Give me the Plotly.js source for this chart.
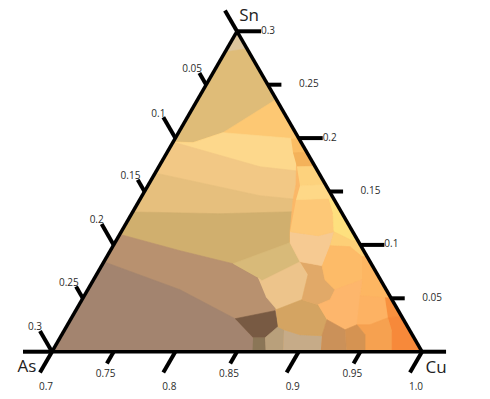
<!DOCTYPE html>
<html><head><meta charset="utf-8">
<script src="https://cdn.plot.ly/plotly-3.0.1.min.js"></script>
<style>html,body{margin:0;padding:0;background:#fff}#chart{width:490px;height:399px}</style>
</head><body><div id="chart"></div>
<script>
// ---- axis ticks and labels (composition fractions) ----
const snTicks = [0, 0.05, 0.1, 0.15, 0.2, 0.25, 0.3];
const asTicks = [0, 0.05, 0.1, 0.15, 0.2, 0.25, 0.3];
const cuTicks = [0.7, 0.75, 0.8, 0.85, 0.9, 0.95, 1.0];
const snLabelVals = [0.05, 0.1, 0.15, 0.2, 0.25, 0.3];
const snLabelText = ['0.05', '0.1', '0.15', '0.2', '0.25', '0.3'];
const asLabelVals = [0.05, 0.1, 0.15, 0.2, 0.25, 0.3];
const asLabelText = ['0.05', '0.1', '0.15', '0.2', '0.25', '0.3'];
const cuLabelVals = [0.7, 0.75, 0.8, 0.85, 0.9, 0.95, 1.0];
const cuLabelText = ['0.7', '0.75', '0.8', '0.85', '0.9', '0.95', '1.0'];
const cornerNames = ['Sn', 'Cu', 'As'];

// ---- Voronoi-like cells: vertices as (Sn, As) fractions, Cu = 1 - Sn - As ----
const cellColor = [
  '#dcc59d', '#dfbc78', '#fdc873', '#fdd88c', '#f2c885', '#e6bf7d', '#d0af6e', '#b8916f', '#a3846f',
  '#fbb868', '#d8ba79', '#edc48b', '#785a43', '#8b7657', '#b9a07b', '#c6ab88', '#d4a462', '#e1a968',
  '#f6ca92', '#fdc877', '#fee07e', '#fdcf77', '#fdbb68', '#fdb662', '#fdb66c', '#fdb263', '#f8913f',
  '#f6a150', '#f7893a', '#d59352', '#cb9159', '#fbbd63', '#f4b25a', '#fdd27d', '#fed887'
];
const cellSn = [
  [0.32, -0.01, -0.01],
  [0.2772, 0.2884, -0.05, -0.05],
  [0.1976, 0.1957, 0.2051, 0.2350, 0.2406, -0.05, -0.05],
  [0.1966, 0.1957, 0.2051, 0.1994, 0.1994, -0.05, -0.05],
  [0.1985, 0.1732, 0.1648, -0.05, -0.05],
  [0.1704, 0.1461, 0.1367, -0.05, -0.05],
  [0.1311, 0.1292, 0.1311, 0.1311, -0.05, -0.05],
  [0.1124, 0.0946, 0.0824, 0.0693, 0.0393, -0.0449, -0.05],
  [0.0890, 0.0581, 0.0309, 0.0131, -0.0449, -0.05],
  [0.2013, 0.22, -0.05, -0.0449, 0.0206, 0.0393, 0.0843, 0.1021, 0.1124, 0.1423, 0.1564, 0.1873],
  [0.0824, 0.1021, 0.0843, 0.0665, 0.0693],
  [0.0693, 0.0665, 0.0843, 0.0721, 0.0487, 0.0393, 0.0515],
  [0.0309, 0.0384, 0.0234, 0.0131, 0.0131],
  [0.0131, 0.0131, -0.0075, -0.0075],
  [0.0131, 0.0234, 0.0206, -0.0075, -0.0075],
  [0.0206, 0.0159, 0.0150, -0.0075, -0.0075],
  [0.0393, 0.0487, 0.0440, 0.0300, 0.0150, 0.0159, 0.0206, 0.0234],
  [0.0843, 0.0805, 0.0674, 0.0581, 0.0487, 0.0440, 0.0487, 0.0721],
  [0.1124, 0.1086, 0.1124, 0.0993, 0.0805, 0.0843, 0.1021],
  [0.1423, 0.1451, 0.1292, 0.1124, 0.1086, 0.1124],
  [0.1451, 0.1470, 0.1049, 0.1039, 0.1124, 0.1292],
  [0.1124, 0.1039, 0.1049, 0.0908, 0.0890, 0.0983, 0.0993],
  [0.0993, 0.0983, 0.0890, 0.0674, 0.0581, 0.0674, 0.0805],
  [0.0890, 0.0908, 0.0487, 0.0506, 0.0524, 0.0674],
  [0.0440, 0.0487, 0.0581, 0.0674, 0.0524, 0.0253, 0.0206, 0.0300],
  [0.0524, 0.0506, 0.0318, 0.0253, 0.0253],
  [0.0506, 0.0487, 0.0346, 0.0318],
  [0.0253, 0.0253, 0.0318, 0.0187, -0.0075, -0.0075, 0.0159],
  [0.0318, 0.0346, -0.0075, -0.0075, 0.0187],
  [0.0206, 0.0253, 0.0159, -0.0075, -0.0075],
  [0.0150, 0.0300, 0.0206, -0.0075, -0.0075],
  [0.1994, 0.2013, 0.1873, 0.1863],
  [0.1863, 0.1873, 0.1742, 0.1732],
  [0.1732, 0.1742, 0.1573, 0.1554],
  [0.1554, 0.1573, 0.1442, 0.1423]
];
const cellAs = [
  [-0.01, 0.32, -0.01],
  [0.0414, -0.0291, -0.03, 0.40],
  [0.1217, 0.0878, 0.0588, 0.0025, -0.0457, -0.03, 0.40],
  [0.1222, 0.0878, 0.0588, 0.0025, -0.0332, -0.03, 0.40],
  [0.1091, 0.0448, -0.0159, -0.03, 0.40],
  [0.1435, 0.0584, -0.0181, -0.03, 0.40],
  [0.1794, 0.0992, 0.0375, -0.0152, -0.03, 0.40],
  [0.1968, 0.1489, 0.1120, 0.0983, 0.0987, 0.1376, 0.40],
  [0.2247, 0.1672, 0.1361, 0.1304, 0.1571, 0.40],
  [0.0016, -0.05, -0.03, 0.1352, 0.1024, 0.0987, 0.0568, 0.0560, 0.0508, 0.0334, 0.0240, 0.0078],
  [0.1120, 0.0560, 0.0568, 0.0965, 0.0983],
  [0.0983, 0.0965, 0.0568, 0.0564, 0.0730, 0.0979, 0.1008],
  [0.1361, 0.1000, 0.1051, 0.1207, 0.1304],
  [0.1304, 0.1207, 0.1302, 0.1415],
  [0.1207, 0.1051, 0.1016, 0.1164, 0.1302],
  [0.1016, 0.0909, 0.0736, 0.0864, 0.1164],
  [0.0987, 0.0730, 0.0623, 0.0620, 0.0736, 0.0909, 0.1016, 0.1051],
  [0.0568, 0.0408, 0.0450, 0.0415, 0.0503, 0.0623, 0.0730, 0.0564],
  [0.0508, 0.0300, 0.0152, 0.0250, 0.0408, 0.0568, 0.0560],
  [0.0310, 0.0036, 0.0076, 0.0152, 0.0300, 0.0508],
  [0.0036, -0.0232, -0.0183, 0.0048, 0.0152, 0.0076],
  [0.0152, 0.0048, -0.0143, -0.0073, 0.0041, 0.0092, 0.0250],
  [0.0250, 0.0092, 0.0041, 0.0149, 0.0415, 0.0450, 0.0408],
  [0.0041, -0.0113, -0.0186, 0.0047, 0.0241, 0.0149],
  [0.0623, 0.0503, 0.0415, 0.0149, 0.0241, 0.0401, 0.0521, 0.0620],
  [0.0241, 0.0047, 0.0117, 0.0296, 0.0401],
  [0.0047, -0.0186, -0.0157, 0.0117],
  [0.0401, 0.0296, 0.0117, 0.0149, 0.0280, 0.0499, 0.0382],
  [0.0117, -0.0157, -0.0109, 0.0280, 0.0149],
  [0.0521, 0.0401, 0.0382, 0.0499, 0.0645],
  [0.0736, 0.0620, 0.0521, 0.0645, 0.0864],
  [0.0065, -0.0260, -0.0190, 0.0114],
  [0.0114, -0.0190, -0.0166, 0.0148],
  [0.0148, -0.0166, -0.0163, 0.0212],
  [0.0212, -0.0163, -0.0137, 0.0310]
];

// ---- geometry: ternary triangle placement and a matching cartesian overlay ----
const W = 490, H = 399;
const TRI_L = 52, TRI_R = 422, TRI_T = 31, TRI_B = 352;   // triangle box in px
const PX = (TRI_R - TRI_L) / 0.3;                           // px per composition unit
const triBottom = (TRI_T + TRI_B) / 2 + (TRI_R - TRI_L) * Math.sqrt(3) / 4;
const LONG = 0.0195, SHORT = 0.011;                         // tick lengths (composition units)
const FONT = '"Open Sans", "DejaVu Sans", sans-serif';
// ternary (Sn, As) -> overlay cartesian coordinates (same units as composition)
function proj(sn, as) { return [0.3 - sn / 2 - as, sn * Math.sqrt(3) / 2]; }
function off(p, dx, dy) { return [p[0] + dx / PX, p[1] - dy / PX]; }
const isMajor = v => Math.abs(Math.round(v * 100) % 10) === 0;

const traces = [];
cellColor.forEach((col, i) => {
  const sn = cellSn[i], as = cellAs[i];
  traces.push({
    type: 'scatterternary', mode: 'lines', fill: 'toself', fillcolor: col,
    a: sn, b: as, c: sn.map((s, k) => 1 - s - as[k]),
    line: {color: col, width: 0.6}, hoverinfo: 'skip', showlegend: false
  });
});

// ---- tick marks, drawn along the grid directions ----
const tx = [], ty = [];
function seg(p, q) { tx.push(p[0], q[0], null); ty.push(p[1], q[1], null); }
snTicks.forEach(v => { const L = isMajor(v) ? LONG : SHORT; seg(proj(v, 0), proj(v, -L)); });
cuTicks.forEach(v => { const L = isMajor(v) ? LONG : SHORT; seg(proj(0, 1 - v), proj(-L, 1 - v + L)); });
asTicks.forEach(v => { const L = isMajor(v) ? LONG : SHORT; seg(proj(0.3 - v, v), proj(0.3 - v + L, v)); });
seg(proj(0, 0.3), proj(0, 0.3 + 0.0235));   // bottom edge extension at the As corner
traces.push({
  type: 'scatter', mode: 'lines', x: tx, y: ty, line: {color: '#000', width: 4},
  hoverinfo: 'skip', showlegend: false, cliponaxis: false
});

// ---- tick labels ----
const lx = [], ly = [], lt = [];
function lab(p, t) { lx.push(p[0]); ly.push(p[1]); lt.push(t); }
snLabelVals.forEach((v, i) => lab(off(proj(v, 0), isMajor(v) ? 31 : 41, 0), snLabelText[i]));
cuLabelVals.forEach((v, i) => lab(isMajor(v) ? off(proj(0, 1 - v), -6, 36) : off(proj(0, 1 - v), -8, 23), cuLabelText[i]));
asLabelVals.forEach((v, i) => lab(isMajor(v) ? off(proj(0.3 - v, v), -17, -24) : off(proj(0.3 - v, v), -14, -15), asLabelText[i]));
traces.push({
  type: 'scatter', mode: 'text', x: lx, y: ly, text: lt, cliponaxis: false,
  textposition: 'middle center', textfont: {family: FONT, size: 10, color: '#2b2b2b'},
  hoverinfo: 'skip', showlegend: false
});

// ---- corner names ----
const cn = [off(proj(0.3, 0), 12, -15), off(proj(0, 0), 14, 17), off(proj(0, 0.3), -25, 16)];
traces.push({
  type: 'scatter', mode: 'text', x: cn.map(p => p[0]), y: cn.map(p => p[1]), text: cornerNames,
  cliponaxis: false, textposition: 'middle center', textfont: {family: FONT, size: 17, color: '#222'},
  hoverinfo: 'skip', showlegend: false
});

function axisStyle(min) {
  return {min: min, showgrid: false, showticklabels: false, ticks: '', showline: true,
          linewidth: 3.5, linecolor: '#000', title: {text: ''}};
}
const layout = {
  width: W, height: H, margin: {l: 0, r: 0, t: 0, b: 0, pad: 0},
  paper_bgcolor: '#fff', plot_bgcolor: 'rgba(0,0,0,0)', showlegend: false, hovermode: false,
  xaxis: {range: [-TRI_L / PX, (W - TRI_L) / PX], visible: false, fixedrange: true},
  yaxis: {range: [-(H - triBottom) / PX, triBottom / PX], visible: false, fixedrange: true},
  ternary: {sum: 1, bgcolor: 'rgba(0,0,0,0)',
            domain: {x: [TRI_L / W, TRI_R / W], y: [(H - TRI_B) / H, (H - TRI_T) / H]},
            aaxis: axisStyle(0), baxis: axisStyle(0), caxis: axisStyle(0.7)}
};
Plotly.newPlot('chart', traces, layout, {displayModeBar: false, staticPlot: true});
</script>
</body></html>
